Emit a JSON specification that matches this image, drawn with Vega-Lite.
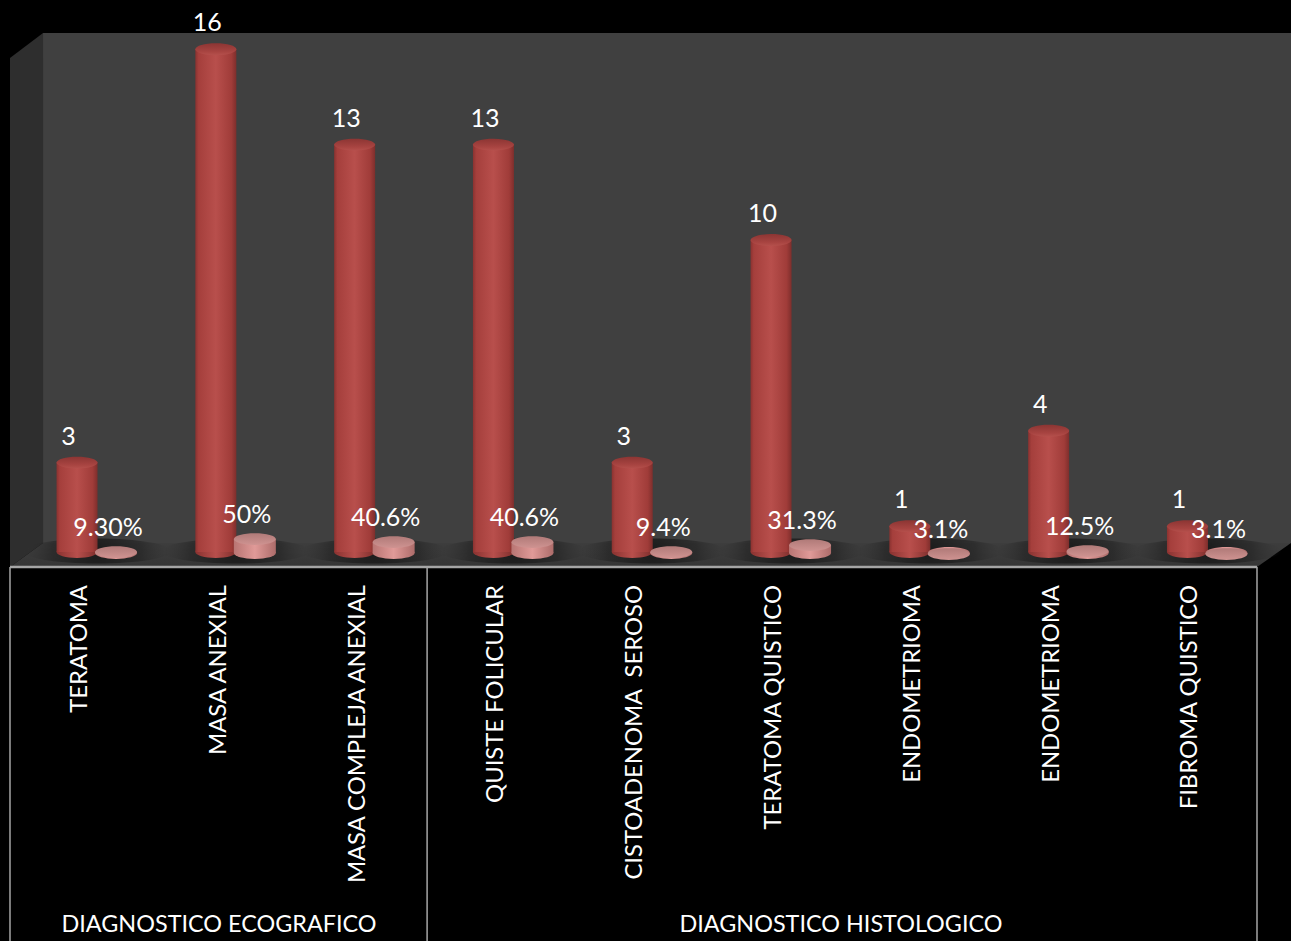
{
  "$schema": "https://vega.github.io/schema/vega-lite/v6.json",
  "width": 1291,
  "height": 941,
  "autosize": {"type": "none"},
  "padding": 0,
  "background": "#000000",
  "config": {"view": {"stroke": null}, "axis": {"disable": true}, "legend": {"disable": true}, "text": {"font": "Lato", "color": "#ffffff"}},
  "datasets": {
    "cases": [
      {"idx": 1, "name": "TERATOMA", "count": 3, "share": 0.093, "shareLabel": "9.30%"},
      {"idx": 2, "name": "MASA ANEXIAL", "count": 16, "share": 0.5, "shareLabel": "50%"},
      {"idx": 3, "name": "MASA COMPLEJA ANEXIAL", "count": 13, "share": 0.406, "shareLabel": "40.6%"},
      {"idx": 4, "name": "QUISTE FOLICULAR", "count": 13, "share": 0.406, "shareLabel": "40.6%"},
      {"idx": 5, "name": "CISTOADENOMA \u00a0SEROSO", "count": 3, "share": 0.094, "shareLabel": "9.4%"},
      {"idx": 6, "name": "TERATOMA QUISTICO", "count": 10, "share": 0.313, "shareLabel": "31.3%"},
      {"idx": 7, "name": "ENDOMETRIOMA", "count": 1, "share": 0.031, "shareLabel": "3.1%"},
      {"idx": 8, "name": "ENDOMETRIOMA", "count": 4, "share": 0.125, "shareLabel": "12.5%"},
      {"idx": 9, "name": "FIBROMA QUISTICO", "count": 1, "share": 0.031, "shareLabel": "3.1%"}
    ],
    "backWall": [{"left": 0.755, "right": 9.746, "top": 16.51, "bottom": 0.47}],
    "sideWall": [
      {"at": 0.517, "top": 15.72, "bottom": -0.283},
      {"at": 0.755, "top": 16.51, "bottom": 0.47}
    ],
    "floor": [
      {"at": 0.517, "top": -0.283, "bottom": -0.283},
      {"at": 0.755, "top": 0.47, "bottom": -0.283},
      {"at": 9.501, "top": 0.47, "bottom": -0.283},
      {"at": 9.746, "top": 0.47, "bottom": 0.47}
    ],
    "dividers": [{"at": 0.517}, {"at": 3.522}, {"at": 9.501}],
    "groups": [
      {"at": 2.023, "group": "DIAGNOSTICO ECOGRAFICO"},
      {"at": 6.504, "group": "DIAGNOSTICO HISTOLOGICO"}
    ]
  },
  "layer": [
    {
      "data": {"name": "backWall"},
      "mark": {"type": "rect", "color": "#404040"},
      "encoding": {
        "x": {"field": "left", "type": "quantitative", "scale": {"domain": [0.445, 9.746], "nice": false, "zero": false, "padding": 0}},
        "x2": {"field": "right"},
        "y": {"field": "top", "type": "quantitative", "scale": {"domain": [-12.044, 17.547], "nice": false, "zero": false, "padding": 0}},
        "y2": {"field": "bottom"}
      }
    },
    {
      "data": {"name": "sideWall"},
      "mark": {"type": "area", "color": "#2e2e2e", "orient": "vertical"},
      "encoding": {
        "x": {"field": "at", "type": "quantitative"},
        "y": {"field": "top", "type": "quantitative", "stack": null},
        "y2": {"field": "bottom"}
      }
    },
    {
      "data": {"name": "floor"},
      "mark": {"type": "area", "orient": "vertical", "color": {"gradient": "linear", "x1": 0, "y1": 0, "x2": 0, "y2": 1, "stops": [{"offset": 0, "color": "#3d3d3d"}, {"offset": 1, "color": "#363636"}]}},
      "encoding": {
        "x": {"field": "at", "type": "quantitative"},
        "y": {"field": "top", "type": "quantitative", "stack": null},
        "y2": {"field": "bottom"}
      }
    },
    {
      "data": {"name": "cases"},
      "mark": {"type": "point", "filled": true, "opacity": 1, "size": 22000, "yOffset": -7, "xOffset": 20, "shape": "M-1,0A1,0.17,0,1,1,1,0A1,0.17,0,1,1,-1,0Z", "color": {"gradient": "radial", "stops": [{"offset": 0, "color": "rgba(24,24,24,0.9)"}, {"offset": 0.6, "color": "rgba(30,30,30,0.5)"}, {"offset": 1, "color": "rgba(50,50,50,0)"}]}},
      "encoding": {
        "x": {"field": "idx", "type": "quantitative"},
        "y": {"datum": 0, "type": "quantitative"}
      }
    },
    {
      "data": {"name": "cases"},
      "mark": {"type": "point", "filled": true, "opacity": 1, "size": 1681, "yOffset": -6, "shape": "M-1,0A1,0.29,0,1,1,1,0A1,0.29,0,1,1,-1,0Z", "color": {"gradient": "linear", "x1": 0, "y1": 0, "x2": 1, "y2": 0, "stops": [{"offset": 0, "color": "#8a3230"}, {"offset": 0.5, "color": "#b84f4c"}, {"offset": 1, "color": "#7e2e2c"}]}},
      "encoding": {
        "x": {"field": "idx", "type": "quantitative"},
        "y": {"datum": 0, "type": "quantitative"}
      }
    },
    {
      "data": {"name": "cases"},
      "mark": {"type": "bar", "orient": "vertical", "size": 41, "y2Offset": -6, "color": {"gradient": "linear", "x1": 0, "y1": 0, "x2": 1, "y2": 0, "stops": [{"offset": 0, "color": "#8a3230"}, {"offset": 0.08, "color": "#a53f3c"}, {"offset": 0.5, "color": "#b84f4c"}, {"offset": 0.88, "color": "#a03c39"}, {"offset": 1, "color": "#7e2e2c"}]}},
      "encoding": {
        "x": {"field": "idx", "type": "quantitative"},
        "y": {"field": "count", "type": "quantitative", "stack": null},
        "y2": {"datum": 0}
      }
    },
    {
      "data": {"name": "cases"},
      "mark": {"type": "point", "filled": true, "opacity": 1, "size": 1681, "shape": "M-1,0A1,0.29,0,1,1,1,0A1,0.29,0,1,1,-1,0Z", "color": {"gradient": "linear", "x1": 0, "y1": 0, "x2": 0, "y2": 1, "stops": [{"offset": 0, "color": "#8c3533"}, {"offset": 0.7, "color": "#a84441"}, {"offset": 1, "color": "#b5504c"}]}},
      "encoding": {
        "x": {"field": "idx", "type": "quantitative"},
        "y": {"field": "count", "type": "quantitative"}
      }
    },
    {
      "data": {"name": "cases"},
      "mark": {"type": "point", "filled": true, "opacity": 1, "size": 1764, "xOffset": 39, "yOffset": -5, "shape": "M-1,0A1,0.28,0,1,1,1,0A1,0.28,0,1,1,-1,0Z", "color": {"gradient": "linear", "x1": 0, "y1": 0, "x2": 1, "y2": 0, "stops": [{"offset": 0, "color": "#b87573"}, {"offset": 0.5, "color": "#e09a98"}, {"offset": 1, "color": "#ad6c6a"}]}},
      "encoding": {
        "x": {"field": "idx", "type": "quantitative"},
        "y": {"datum": 0, "type": "quantitative"}
      }
    },
    {
      "data": {"name": "cases"},
      "mark": {"type": "bar", "orient": "vertical", "size": 42, "xOffset": 39, "yOffset": -3, "y2Offset": -5, "color": {"gradient": "linear", "x1": 0, "y1": 0, "x2": 1, "y2": 0, "stops": [{"offset": 0, "color": "#b87573"}, {"offset": 0.5, "color": "#e09a98"}, {"offset": 1, "color": "#ad6c6a"}]}},
      "encoding": {
        "x": {"field": "idx", "type": "quantitative"},
        "y": {"field": "share", "type": "quantitative", "stack": null},
        "y2": {"datum": 0}
      }
    },
    {
      "data": {"name": "cases"},
      "mark": {"type": "point", "filled": true, "opacity": 1, "size": 1764, "xOffset": 39, "yOffset": -3, "shape": "M-1,0A1,0.28,0,1,1,1,0A1,0.28,0,1,1,-1,0Z", "color": {"gradient": "linear", "x1": 0, "y1": 0, "x2": 0, "y2": 1, "stops": [{"offset": 0, "color": "#b07a78"}, {"offset": 1, "color": "#cf9391"}]}},
      "encoding": {
        "x": {"field": "idx", "type": "quantitative"},
        "y": {"field": "share", "type": "quantitative"}
      }
    },
    {
      "data": {"name": "cases"},
      "mark": {"type": "text", "fontSize": 25, "baseline": "middle", "dy": -26, "xOffset": -8.5},
      "encoding": {
        "x": {"field": "idx", "type": "quantitative"},
        "y": {"field": "count", "type": "quantitative"},
        "text": {"field": "count", "type": "nominal"}
      }
    },
    {
      "data": {"name": "cases"},
      "mark": {"type": "text", "fontSize": 25, "baseline": "middle", "dy": -27, "xOffset": 31},
      "encoding": {
        "x": {"field": "idx", "type": "quantitative"},
        "y": {"field": "share", "type": "quantitative"},
        "text": {"field": "shareLabel", "type": "nominal"}
      }
    },
    {
      "data": {"name": "cases"},
      "mark": {"type": "text", "fontSize": 23.8, "angle": 270, "align": "right", "baseline": "middle", "xOffset": 3},
      "encoding": {
        "x": {"field": "idx", "type": "quantitative"},
        "y": {"datum": -0.85, "type": "quantitative"},
        "text": {"field": "name", "type": "nominal"}
      }
    },
    {
      "data": {"name": "groups"},
      "mark": {"type": "text", "fontSize": 23.4, "align": "center", "baseline": "middle"},
      "encoding": {
        "x": {"field": "at", "type": "quantitative"},
        "y": {"datum": -11.55, "type": "quantitative"},
        "text": {"field": "group", "type": "nominal"}
      }
    },
    {
      "data": {"name": "dividers"},
      "mark": {"type": "rule", "color": "#a6a6a6", "strokeWidth": 1.5},
      "encoding": {
        "x": {"field": "at", "type": "quantitative"},
        "y": {"datum": -0.283, "type": "quantitative"},
        "y2": {"datum": -12.044}
      }
    },
    {
      "data": {"values": [{"from": 0.517, "to": 9.501}]},
      "mark": {"type": "rule", "color": "#a6a6a6", "strokeWidth": 2.5},
      "encoding": {
        "x": {"field": "from", "type": "quantitative"},
        "x2": {"field": "to"},
        "y": {"datum": -0.283, "type": "quantitative"}
      }
    }
  ]
}
